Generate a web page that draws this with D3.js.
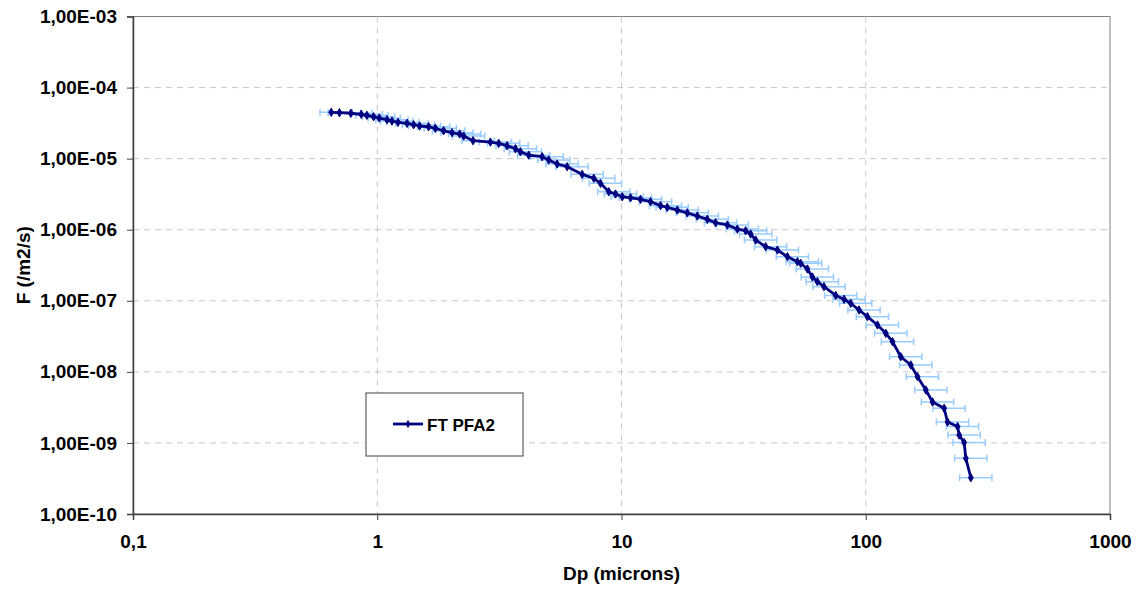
<!DOCTYPE html>
<html>
<head>
<meta charset="utf-8">
<script src="https://cdn.jsdelivr.net/npm/d3@7"></script>
<style>
  body { margin: 0; background: #fff; }
  text { font-family: "Liberation Sans", Arial, sans-serif; font-weight: bold; fill: #000; }
</style>
</head>
<body>
<div id="chart"></div>
<script>
// series "FT PFA2" : particle diameter (microns) vs cumulative flux (/m2/s)
var dp = [0.648, 0.70, 0.78, 0.86, 0.907, 0.966, 1.019, 1.096, 1.149, 1.216,
  1.324, 1.409, 1.491, 1.623, 1.729, 1.869, 2.024, 2.175, 2.258, 2.467,
  2.905, 3.142, 3.401, 3.678, 3.856, 4.17, 4.732, 5.036, 5.452, 5.991,
  6.902, 7.70, 8.203, 8.872, 9.45, 10.07, 10.89, 11.96, 13.15, 14.45,
  15.39, 16.92, 18.59, 20.43, 22.45, 24.28, 27.12, 29.81, 32.23, 33.79,
  35.42, 38.92, 43.47, 47.77, 52.5, 54.16, 57.69, 60.47, 63.39, 67.45,
  75.34, 81.5, 86.79, 93.87, 101.6, 111.7, 120.8, 128.7, 139.1, 152.9,
  162.9, 176.2, 187.7, 209.4, 216.2, 237.6, 241.3, 252.9, 256.9, 269.3];
var flux = [4.49e-5, 4.43e-5, 4.35e-5, 4.21e-5, 4.07e-5, 3.89e-5, 3.73e-5, 3.53e-5, 3.38e-5, 3.24e-5,
  3.14e-5, 3.00e-5, 2.88e-5, 2.81e-5, 2.67e-5, 2.47e-5, 2.32e-5, 2.22e-5, 2.08e-5, 1.79e-5,
  1.71e-5, 1.64e-5, 1.52e-5, 1.38e-5, 1.25e-5, 1.12e-5, 1.065e-5, 9.57e-6, 8.41e-6, 7.70e-6,
  6.02e-6, 5.29e-6, 4.50e-6, 3.42e-6, 3.18e-6, 2.91e-6, 2.82e-6, 2.68e-6, 2.48e-6, 2.18e-6,
  2.07e-6, 1.89e-6, 1.73e-6, 1.56e-6, 1.40e-6, 1.255e-6, 1.165e-6, 1.02e-6, 9.68e-7, 8.70e-7,
  7.16e-7, 5.77e-7, 5.18e-7, 4.17e-7, 3.55e-7, 3.37e-7, 2.80e-7, 2.16e-7, 1.86e-7, 1.58e-7,
  1.19e-7, 1.05e-7, 9.21e-8, 7.42e-8, 5.97e-8, 4.56e-8, 3.49e-8, 2.66e-8, 1.63e-8, 1.25e-8,
  8.55e-9, 5.55e-9, 3.77e-9, 3.07e-9, 1.97e-9, 1.70e-9, 1.29e-9, 1.01e-9, 6.08e-10, 3.24e-10];
// x error bars (fraction of Dp)
var errMinus = 0.10;
var errPlus = 0.22;

var xTicks = [0.1, 1, 10, 100, 1000];
var yTicks = [1e-10, 1e-9, 1e-8, 1e-7, 1e-6, 1e-5, 1e-4, 1e-3];
var seriesName = "FT PFA2";

var svgWidth = 1136, svgHeight = 590;
var margin = { top: 16.5, right: 26, bottom: 76, left: 133 };
var width = svgWidth - margin.left - margin.right;
var height = svgHeight - margin.top - margin.bottom;

var svg = d3.select("#chart").append("svg")
  .attr("width", svgWidth)
  .attr("height", svgHeight);

var g = svg.append("g")
  .attr("transform", `translate(${margin.left}, ${margin.top})`);

var x = d3.scaleLog().domain([0.1, 1000]).range([0, width]);
var y = d3.scaleLog().domain([1e-10, 1e-3]).range([height, 0]);

var data = dp.map((d, i) => ({ dp: d, f: flux[i] }));

// plot border
g.append("rect")
  .attr("width", width).attr("height", height)
  .attr("fill", "none").attr("stroke", "#808080").attr("stroke-width", 1);

// grid lines
g.append("g").selectAll("line").data(yTicks.slice(1, -1)).enter()
  .append("line")
  .attr("x1", 0).attr("x2", width)
  .attr("y1", d => y(d)).attr("y2", d => y(d))
  .attr("stroke", "#c8c8c8").attr("stroke-dasharray", "6,5");
g.append("g").selectAll("line").data(xTicks.slice(1, -1)).enter()
  .append("line")
  .attr("y1", 0).attr("y2", height)
  .attr("x1", d => x(d)).attr("x2", d => x(d))
  .attr("stroke", "#c8c8c8").attr("stroke-dasharray", "6,5");

// axes
var xAxis = g.append("g")
  .attr("transform", `translate(0, ${height})`)
  .call(d3.axisBottom(x).tickValues(xTicks).tickSize(6).tickPadding(15)
    .tickFormat(d => String(d).replace(".", ",")));
var yAxis = g.append("g")
  .call(d3.axisLeft(y).tickValues(yTicks).tickSize(6).tickPadding(10)
    .tickFormat(d => d.toExponential(2).replace(".", ",").replace("e", "E").replace(/E-(\d)$/, "E-0$1").toUpperCase()));

[xAxis, yAxis].forEach(a => {
  a.select(".domain").attr("stroke", "#404040").attr("stroke-width", 1.5);
  a.selectAll(".tick line").attr("stroke", "#404040");
  a.selectAll(".tick text").style("font-size", "19px").style("font-weight", "bold")
    .attr("font-family", "Liberation Sans, Arial, sans-serif");
});

// error bars
var eb = g.append("g").attr("stroke", "#99ccff").attr("stroke-width", 1.5).attr("fill", "none");
eb.selectAll("path").data(data).enter()
  .append("path")
  .attr("d", d => {
    var x0 = x(d.dp * (1 - errMinus)), x1 = x(d.dp * (1 + errPlus)), yy = y(d.f);
    return `M${x0},${yy}H${x1}M${x0},${yy - 3.5}V${yy + 3.5}M${x1},${yy - 3.5}V${yy + 3.5}`;
  });

// series line
var line = d3.line().x(d => x(d.dp)).y(d => y(d.f));
g.append("path").datum(data)
  .attr("d", line)
  .attr("fill", "none").attr("stroke", "#000080").attr("stroke-width", 2.8)
  .attr("stroke-linejoin", "round");

var diamond = d3.symbol().type(d3.symbolDiamond).size(20);
g.append("g").selectAll("path").data(data).enter()
  .append("path")
  .attr("d", diamond)
  .attr("transform", d => `translate(${x(d.dp)}, ${y(d.f)})`)
  .attr("fill", "#000080").attr("stroke", "#000080");

// axis titles
svg.append("text")
  .attr("x", margin.left + width / 2).attr("y", 580)
  .attr("text-anchor", "middle").style("font-size", "19px")
  .text("Dp (microns)");
svg.append("text")
  .attr("transform", `translate(30, ${margin.top + height / 2}) rotate(-90)`)
  .attr("text-anchor", "middle").style("font-size", "19px")
  .text("F (/m2/s)");

// legend
var legend = svg.append("g").attr("transform", "translate(366, 393)");
legend.append("rect")
  .attr("width", 157).attr("height", 63)
  .attr("fill", "#fff").attr("stroke", "#404040").attr("stroke-width", 1);
legend.append("line")
  .attr("x1", 27).attr("x2", 57).attr("y1", 31).attr("y2", 31)
  .attr("stroke", "#000080").attr("stroke-width", 2.8);
legend.append("path").attr("d", diamond)
  .attr("transform", "translate(42, 31)").attr("fill", "#000080");
legend.append("text")
  .attr("x", 61).attr("y", 37.5).style("font-size", "17px")
  .text(seriesName);
</script>
</body>
</html>
